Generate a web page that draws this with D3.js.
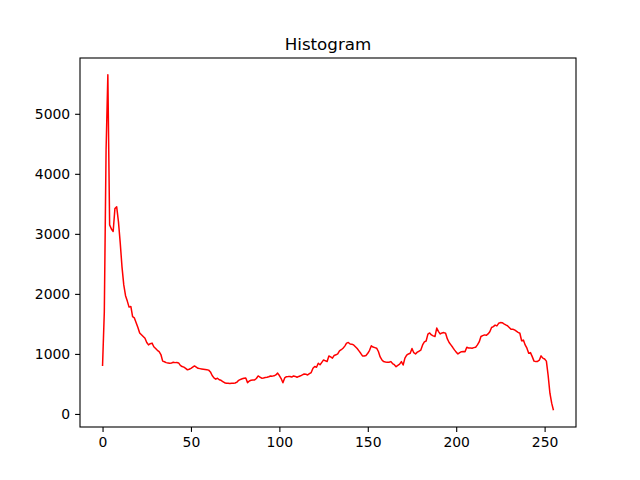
<!DOCTYPE html>
<html>
<head>
<meta charset="utf-8">
<script src="https://cdn.jsdelivr.net/npm/d3@7"></script>
<style>
  html, body { margin: 0; padding: 0; background: #fff; }
  svg { display: block; }
</style>
</head>
<body>
<svg id="chart" width="640" height="480"></svg>
<script>
const title = "Histogram";
const xTicks = [0, 50, 100, 150, 200, 250];
const yTicks = [0, 1000, 2000, 3000, 4000, 5000];
const histValues = [
  800, 1700, 4400, 5650, 3150, 3080, 3040, 3420, 3450, 3200,
  2850, 2450, 2150, 1970, 1880, 1780, 1790, 1620, 1600, 1520,
  1440, 1350, 1320, 1290, 1260, 1190, 1150, 1170, 1180, 1120,
  1090, 1060, 1040, 990, 880, 870, 855, 850, 845, 850,
  860, 855, 858, 850, 810, 790, 780, 760, 735, 745,
  760, 780, 800, 780, 760, 755, 750, 745, 740, 735,
  730, 700, 640, 600, 580, 595, 570, 560, 540, 520,
  510, 512, 508, 512, 510, 515, 530, 560, 575, 585,
  595, 600, 522, 550, 560, 565, 567, 590, 633, 615,
  595, 600, 608, 612, 620, 633, 630, 635, 650, 680,
  640, 590, 520, 600, 620, 622, 625, 615, 633, 625,
  611, 625, 635, 650, 665, 660, 650, 670, 690, 760,
  790, 778, 845, 820, 860, 900, 885, 875, 965, 950,
  930, 975, 985, 1000, 1050, 1070, 1095, 1130, 1180, 1190,
  1165, 1160, 1150, 1120, 1090, 1050, 1010, 967, 965, 975,
  1010, 1060, 1135, 1115, 1105, 1095, 1040, 950, 900, 872,
  865, 860, 862, 872, 840, 820, 788, 810, 830, 872,
  815, 930, 980, 1000, 1010, 1090, 1020, 1000, 1030, 1045,
  1065, 1150, 1200, 1215, 1330, 1350, 1317, 1300, 1290, 1430,
  1372, 1333, 1350, 1355, 1345, 1250, 1190, 1150, 1110, 1067,
  1030, 1000, 1020, 1038, 1040, 1038, 1110, 1100, 1098, 1095,
  1105, 1112, 1150, 1200, 1290, 1305, 1317, 1310, 1333, 1370,
  1440, 1455, 1480, 1467, 1510, 1522, 1520, 1500, 1483, 1470,
  1440, 1411, 1411, 1400, 1380, 1360, 1345, 1220, 1230, 1150,
  1095, 1011, 1022, 955, 880, 872, 875, 895, 967, 930,
  915, 880, 640, 345, 180, 62
];

const svg = d3.select("#chart");
const W = 640, H = 480;
const m = { left: 80, right: 64, top: 58, bottom: 53 };
const pw = W - m.left - m.right, ph = H - m.top - m.bottom;

const n = histValues.length;
const xMin = 0, xMax = n - 1;
const xPad = (xMax - xMin) * 0.05;
const yMin = d3.min(histValues), yMax = d3.max(histValues);
const yPad = (yMax - yMin) * 0.05;

const x = d3.scaleLinear().domain([xMin - xPad, xMax + xPad]).range([m.left, m.left + pw]);
const y = d3.scaleLinear().domain([yMin - yPad, yMax + yPad]).range([m.top + ph, m.top]);

const font = "DejaVu Sans, sans-serif";

// line
const line = d3.line().x((d, i) => x(i)).y(d => y(d));
svg.append("path")
  .datum(histValues)
  .attr("fill", "none")
  .attr("stroke", "#ff0000")
  .attr("stroke-width", 1.5)
  .attr("stroke-linejoin", "round")
  .attr("d", line);

// axes
const xAxis = d3.axisBottom(x).tickValues(xTicks).tickSize(4.9).tickPadding(4.9).tickFormat(d3.format("d"));
const yAxis = d3.axisLeft(y).tickValues(yTicks).tickSize(4.9).tickPadding(4.9).tickFormat(d3.format("d"));

const gx = svg.append("g").attr("transform", `translate(0,${m.top + ph})`).call(xAxis);
const gy = svg.append("g").attr("transform", `translate(${m.left},0)`).call(yAxis);
[gx, gy].forEach(g => {
  g.select(".domain").remove();
  g.selectAll(".tick line").attr("stroke", "#000").attr("stroke-width", 1.1);
  g.selectAll(".tick text").attr("fill", "#000").style("font-family", font).style("font-size", "13.9px");
});

// frame
svg.append("rect")
  .attr("x", m.left).attr("y", m.top)
  .attr("width", pw).attr("height", ph)
  .attr("fill", "none").attr("stroke", "#000").attr("stroke-width", 1.1);

// title
svg.append("text")
  .attr("x", m.left + pw / 2)
  .attr("y", m.top - 8.3)
  .attr("text-anchor", "middle")
  .style("font-family", font)
  .style("font-size", "16.7px")
  .attr("fill", "#000")
  .text(title);
</script>
</body>
</html>
